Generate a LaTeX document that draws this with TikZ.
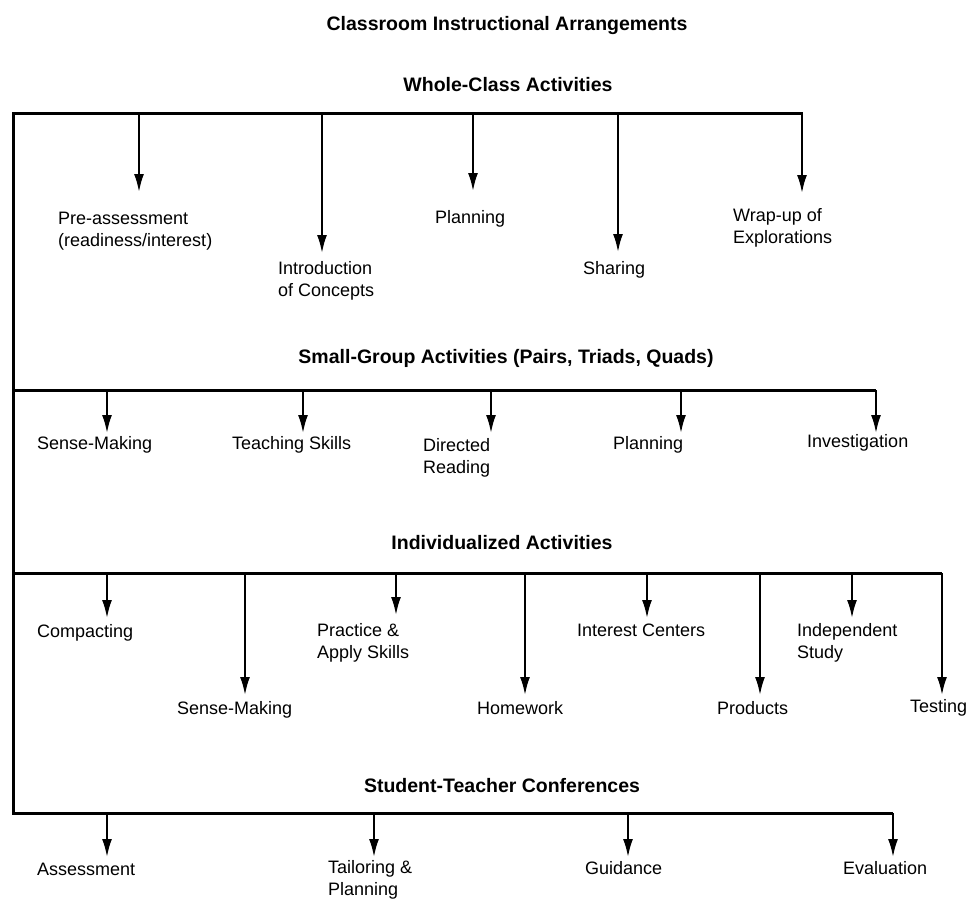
\documentclass[tikz,border=0pt]{standalone}
\usepackage{fontspec}
\setmainfont{Liberation Sans}
\usetikzlibrary{arrows.meta}
\tikzstyle{heading}=[inner sep=0pt, font=\bfseries\fontsize{19.5}{22}\selectfont]
\tikzstyle{item}=[anchor=west, align=left, inner sep=0pt, font=\fontsize{18}{22}\selectfont]
\tikzstyle{rail}=[line width=3pt]
\tikzstyle{branch}=[-{Latex[length=18pt,width=10pt]}, line width=2pt]

\begin{document}
\begin{tikzpicture}[x=1pt, y=-1pt]
    \useasboundingbox (0,0) rectangle (972,898);
    % headings
    \node[heading] (title) at (507,25) {Classroom Instructional Arrangements};
    \node[heading] (whole) at (508,85) {Whole-Class Activities};
    \node[heading] (small) at (506,358) {Small-Group Activities (Pairs, Triads, Quads)};
    \node[heading] (indiv) at (502,543) {Individualized Activities};
    \node[heading] (conf) at (502,786) {Student-Teacher Conferences};
    % whole-class
    \node[item] (pre) at (58,231.5) {Pre-assessment\\(readiness/interest)};
    \node[item] (intro) at (278,281) {Introduction\\of Concepts};
    \node[item] (plan) at (435,219) {Planning};
    \node[item] (share) at (583,270) {Sharing};
    \node[item] (wrap) at (733,228) {Wrap-up of\\Explorations};
    % small-group
    \node[item] (sense) at (37,445) {Sense-Making};
    \node[item] (teach) at (232,445) {Teaching Skills};
    \node[item] (direct) at (423,458) {Directed\\Reading};
    \node[item] (plantwo) at (613,445) {Planning};
    \node[item] (invest) at (807,443) {Investigation};
    % individualized
    \node[item] (compact) at (37,633) {Compacting};
    \node[item] (sensetwo) at (177,710) {Sense-Making};
    \node[item] (practice) at (317,642.5) {Practice \&\\Apply Skills};
    \node[item] (home) at (477,708) {Homework};
    \node[item] (interest) at (577,630) {Interest Centers};
    \node[item] (products) at (717,708) {Products};
    \node[item] (indep) at (797,642.5) {Independent\\Study};
    \node[item] (testing) at (910,708) {Testing};
    % conferences
    \node[item] (assess) at (37,869) {Assessment};
    \node[item] (tailor) at (328,880) {Tailoring \&\\Planning};
    \node[item] (guide) at (585,868) {Guidance};
    \node[item] (eval) at (843,868) {Evaluation};

    % rails
    \coordinate (w0) at (13,113);  \coordinate (wend) at (803,113);
    \coordinate (s0) at (13,390);  \coordinate (send) at (876,390);
    \coordinate (i0) at (13,573);  \coordinate (iend) at (942,573);
    \coordinate (c0) at (13,813);  \coordinate (cend) at (893,813);
    \draw[rail] (wend) -- (w0) -- (c0) -- (cend);
    \draw[rail] (s0) -- (send);
    \draw[rail] (i0) -- (iend);

    % branch points and tips
    \coordinate (w1) at (139,113); \coordinate (w1t) at (139,192);
    \coordinate (w2) at (322,113); \coordinate (w2t) at (322,253);
    \coordinate (w3) at (473,113); \coordinate (w3t) at (473,191);
    \coordinate (w4) at (618,113); \coordinate (w4t) at (618,252);
    \coordinate (w5) at (802,113); \coordinate (w5t) at (802,193);
    \coordinate (s1) at (107,390); \coordinate (s1t) at (107,433);
    \coordinate (s2) at (303,390); \coordinate (s2t) at (303,433);
    \coordinate (s3) at (491,390); \coordinate (s3t) at (491,433);
    \coordinate (s4) at (681,390); \coordinate (s4t) at (681,433);
    \coordinate (s5) at (876,390); \coordinate (s5t) at (876,433);
    \coordinate (i1) at (107,573); \coordinate (i1t) at (107,618);
    \coordinate (i2) at (245,573); \coordinate (i2t) at (245,695);
    \coordinate (i3) at (396,573); \coordinate (i3t) at (396,615);
    \coordinate (i4) at (525,573); \coordinate (i4t) at (525,695);
    \coordinate (i5) at (647,573); \coordinate (i5t) at (647,618);
    \coordinate (i6) at (760,573); \coordinate (i6t) at (760,695);
    \coordinate (i7) at (852,573); \coordinate (i7t) at (852,618);
    \coordinate (i8) at (942,573); \coordinate (i8t) at (942,695);
    \coordinate (c1) at (107,813); \coordinate (c1t) at (107,857);
    \coordinate (c2) at (374,813); \coordinate (c2t) at (374,857);
    \coordinate (c3) at (628,813); \coordinate (c3t) at (628,857);
    \coordinate (c4) at (893,813); \coordinate (c4t) at (893,857);

    \draw[branch] (w1) -- (w1t);
    \draw[branch] (w2) -- (w2t);
    \draw[branch] (w3) -- (w3t);
    \draw[branch] (w4) -- (w4t);
    \draw[branch] (w5) -- (w5t);
    \draw[branch] (s1) -- (s1t);
    \draw[branch] (s2) -- (s2t);
    \draw[branch] (s3) -- (s3t);
    \draw[branch] (s4) -- (s4t);
    \draw[branch] (s5) -- (s5t);
    \draw[branch] (i1) -- (i1t);
    \draw[branch] (i2) -- (i2t);
    \draw[branch] (i3) -- (i3t);
    \draw[branch] (i4) -- (i4t);
    \draw[branch] (i5) -- (i5t);
    \draw[branch] (i6) -- (i6t);
    \draw[branch] (i7) -- (i7t);
    \draw[branch] (i8) -- (i8t);
    \draw[branch] (c1) -- (c1t);
    \draw[branch] (c2) -- (c2t);
    \draw[branch] (c3) -- (c3t);
    \draw[branch] (c4) -- (c4t);
\end{tikzpicture}
\end{document}
